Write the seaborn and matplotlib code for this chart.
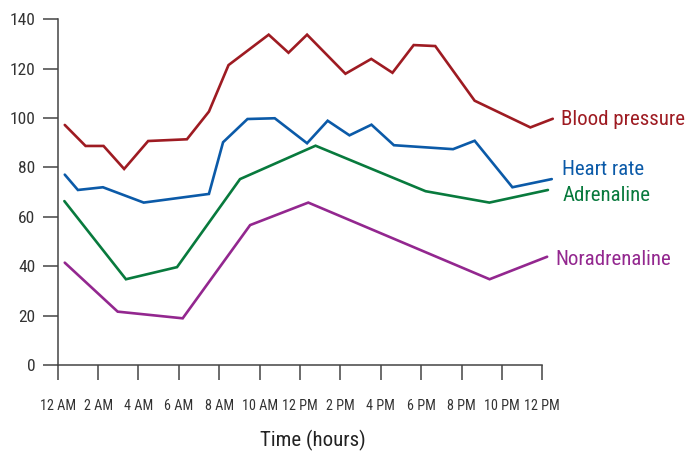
import pandas as pd
import seaborn as sns
import matplotlib.pyplot as plt
from matplotlib import font_manager

# hours since midnight
bp_hours = [0.35, 1.38, 2.27, 3.29, 4.48, 6.40, 7.49, 8.46, 10.45, 11.43, 12.35,
            14.25, 15.53, 16.58, 17.63, 18.70, 20.65, 23.41, 24.52]
bp_values = [97.2, 88.7, 88.7, 79.4, 90.7, 91.4, 102.6, 121.4, 133.7, 126.4, 133.7,
             117.9, 123.9, 118.3, 129.5, 129.1, 107.0, 96.2, 99.7]

hr_hours = [0.35, 1.0, 2.24, 4.26, 7.49, 8.19, 9.40, 10.75, 12.35, 13.37, 14.45,
            15.54, 16.65, 19.58, 20.65, 22.52, 24.47]
hr_values = [77.1, 70.9, 72.0, 65.8, 69.3, 90.2, 99.6, 99.9, 89.8, 98.9, 93.0,
             97.3, 89.0, 87.4, 90.8, 72.0, 75.3]

adr_hours = [0.33, 3.38, 5.91, 9.03, 12.77, 18.22, 21.38, 24.28]
adr_values = [66.4, 34.8, 39.7, 75.3, 88.8, 70.4, 65.8, 70.9]

nor_hours = [0.35, 2.97, 6.19, 9.53, 12.41, 21.39, 24.24]
nor_values = [41.5, 21.7, 19.0, 56.7, 65.8, 34.8, 43.9]

series = ['Blood pressure', 'Heart rate', 'Adrenaline', 'Noradrenaline']
colors = ['#9e1b22', '#0b5aa8', '#087a3d', '#93278f']

tick_hours = list(range(0, 25, 2))
tick_labels = ['12 AM', '2 AM', '4 AM', '6 AM', '8 AM', '10 AM', '12 PM',
               '2 PM', '4 PM', '6 PM', '8 PM', '10 PM', '12 PM']
y_ticks = list(range(0, 141, 20))

frames = []
for name, hrs, vals in zip(series,
                           [bp_hours, hr_hours, adr_hours, nor_hours],
                           [bp_values, hr_values, adr_values, nor_values]):
    frames.append(pd.DataFrame({'hour': hrs, 'value': vals, 'series': name}))
df = pd.concat(frames, ignore_index=True)

sns.set_style('white')
names = {f.name for f in font_manager.fontManager.ttflist}
narrow = next((n for n in ['Liberation Sans Narrow', 'Roboto Condensed', 'Open Sans Condensed']
               if n in names), 'Liberation Sans')
plt.rcParams['font.family'] = [narrow, 'DejaVu Sans']

fig = plt.figure(figsize=(6.88, 4.53), dpi=100)
ax = fig.add_axes([57.7 / 688, 1 - 365.3 / 453, 496.7 / 688, 346.2 / 453])

sns.lineplot(data=df, x='hour', y='value', hue='series', hue_order=series,
             palette=colors, estimator=None, sort=True, linewidth=1.9,
             legend=False, ax=ax)
for line in ax.get_lines():
    line.set_clip_on(False)
    line.set_solid_joinstyle('miter')

ax.set_xlim(0, 24.6)
ax.set_ylim(0, 140)
ax.set_xticks(tick_hours)
ax.set_xticklabels(tick_labels, fontsize=10.2, color='#333333')
ax.set_yticks(y_ticks)
ax.set_yticklabels([str(v) for v in y_ticks], fontsize=12.5, color='#333333')
ax.set_xlabel('')
ax.set_ylabel('')

for side in ['top', 'right']:
    ax.spines[side].set_visible(False)
for side in ['left', 'bottom']:
    ax.spines[side].set_color('#444444')
    ax.spines[side].set_linewidth(1.1)
ax.spines['bottom'].set_bounds(0, 24)
ax.tick_params(axis='x', bottom=True, direction='out', length=10.5, width=1.1,
               color='#444444', pad=14)
ax.tick_params(axis='y', left=True, direction='out', length=11, width=1.1,
               color='#444444', pad=5)

# series labels at the right end of the lines
label_pos = {'Blood pressure': (561, 125), 'Heart rate': (561.5, 175),
             'Adrenaline': (563, 201), 'Noradrenaline': (555, 265)}
for name, col in zip(series, colors):
    px, py = label_pos[name]
    fig.text(px / 688, 1 - py / 453, name, color=col, fontsize=15,
             ha='left', va='baseline')

fig.text(313 / 688, 1 - 440 / 453, 'Time (hours)', fontsize=15, color='#222222',
         ha='center', va='center')

fig.savefig('out.png', dpi=100)
